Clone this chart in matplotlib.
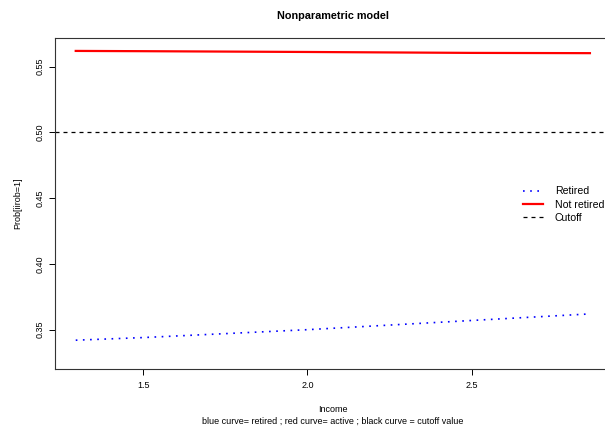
import matplotlib
matplotlib.use("Agg")
import matplotlib.pyplot as plt

plt.rcParams['font.family'] = ['Liberation Sans', 'DejaVu Sans']

income_retired = [1.295, 1.5, 2.0, 2.5, 2.86]
prob_retired = [0.3420, 0.3440, 0.3500, 0.3570, 0.3620]
income_active = [1.295, 1.5, 2.0, 2.5, 2.86]
prob_active = [0.5620, 0.5618, 0.5612, 0.5605, 0.5603]
cutoff = 0.5
xticks = [1.5, 2.0, 2.5]
yticks = [0.35, 0.40, 0.45, 0.50, 0.55]

W, H = 605, 429
fig = plt.figure(figsize=(W / 100, H / 100), dpi=100)
left, right, top, bottom = 55, 610.5, 38.3, 369
ax = fig.add_axes([left / W, 1 - bottom / H, (right - left) / W, (bottom - top) / H])

ax.plot(income_retired, prob_retired, color='blue', linestyle=(0, (1, 3.3)), lw=1.2, label='Retired')
ax.plot(income_active, prob_active, color='red', linestyle='-', lw=1.6, label='Not retired')
ax.axhline(cutoff, color='black', linestyle=(0, (3.2, 3.2)), lw=0.9, label='Cutoff')

ax.set_xlim(1.2319, 2.9226)
ax.set_ylim(0.3201, 0.5716)
ax.set_xticks(xticks)
ax.set_xticklabels([f"{t:.1f}" for t in xticks], fontsize=6.5)
ax.set_yticks(yticks)
ax.set_yticklabels([f"{t:.2f}" for t in yticks], fontsize=6.5, rotation=90, va='center')
ax.tick_params(axis='x', direction='out', length=4, width=0.7, pad=5)
ax.tick_params(axis='y', direction='out', length=4, width=0.7, pad=3.5)
ax.spines['right'].set_visible(False)
for s in ['left', 'bottom', 'top']:
    ax.spines[s].set_linewidth(0.8)
    ax.spines[s].set_color('#333333')

ax_w, ax_h = right - left, bottom - top
leg = ax.legend(loc='upper left', bbox_to_anchor=((523 - left) / ax_w, 1 - (186.5 - top) / ax_h),
                frameon=False, fontsize=7.6, handlelength=1.9, handletextpad=1.1,
                labelspacing=0.3, borderaxespad=0, borderpad=0)

cx = (left + right) / 2 / W
fig.text(cx, 1 - 15.7 / H, 'Nonparametric model', ha='center', va='center', fontsize=7.8, fontweight='bold')
fig.text(cx, 1 - 409 / H, 'Income', ha='center', va='center', fontsize=6.5)
fig.text(cx, 1 - 421.7 / H, 'blue curve= retired ; red curve= active ; black curve = cutoff value',
         ha='center', va='center', fontsize=6.5)
fig.text(18 / W, 1 - (top + bottom) / 2 / H, 'Prob[iirob=1]', ha='center', va='center',
         rotation=90, fontsize=6.5)

fig.savefig('out.png', dpi=100)
